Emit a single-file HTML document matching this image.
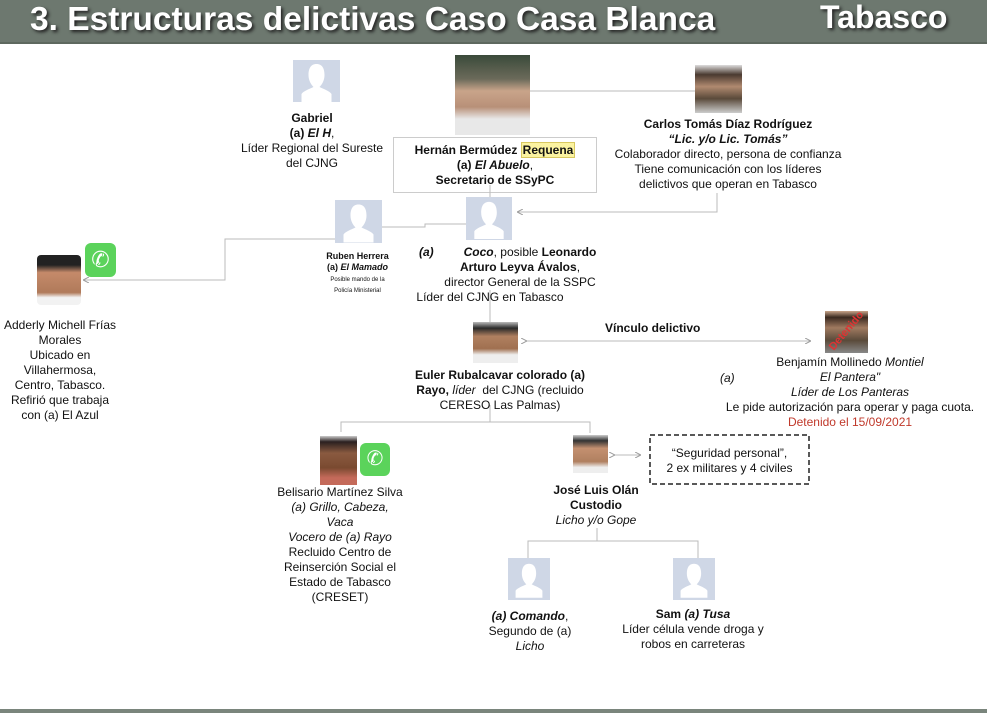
<!DOCTYPE html>
<html><head><meta charset="utf-8"><style>
*{margin:0;padding:0;box-sizing:border-box}
body{width:987px;height:714px;position:relative;background:#fff;font-family:"Liberation Sans",sans-serif;overflow:hidden;color:#111}
.hdr{position:absolute;left:0;top:0;width:987px;height:44px;background:#6d786f;border-bottom:2px solid #5e685f}
.ttl{position:absolute;top:1px;color:#fff;font-weight:bold;font-size:33.5px;text-shadow:2px 2px 3px #222;white-space:nowrap}
.t{position:absolute;font-size:12px;line-height:15px;text-align:center;white-space:nowrap}
.ph{position:absolute;background:#cfd7e6;overflow:hidden}
.ph svg{width:100%;height:100%;display:block}
.pic{position:absolute;overflow:hidden}
svg.lines{position:absolute;left:0;top:0}
b{font-weight:bold}
</style></head><body>
<div class="hdr"></div>
<div class="ttl" style="left:30px">3. Estructuras delictivas Caso Casa Blanca</div>
<div class="ttl" style="left:820px;top:-1px;font-size:32px">Tabasco</div>

<svg class="lines" width="987" height="714">
<defs><marker id="a" markerWidth="6" markerHeight="6" refX="5" refY="3" orient="auto"><path d="M0,0 L6,3 L0,6" fill="none" stroke="#999" stroke-width="1"/></marker></defs>
<g stroke="#bbb" stroke-width="1" fill="none">
<line x1="530" y1="91" x2="695" y2="91"/>
<rect x="393.5" y="137.5" width="203" height="55" stroke="#ccc"/>
<polyline points="717,193 717,212 518,212" marker-end="url(#a)"/>
<line x1="490" y1="185" x2="490" y2="197"/>
<polyline points="382,227 425,227 425,224 466,224"/>
<polyline points="335,239 225,239 225,280 84,280" marker-end="url(#a)"/>
<line x1="490" y1="290" x2="490" y2="322"/>
<line x1="526" y1="341" x2="810" y2="341" marker-end="url(#a)" marker-start="url(#a)"/>
<polyline points="490,405 490,422"/>
<polyline points="341,432 341,422 590,422 590,433"/>
<line x1="614" y1="455" x2="640" y2="455" marker-end="url(#a)" marker-start="url(#a)"/>
<polyline points="597,528 597,541"/>
<polyline points="528,558 528,541 698,541 698,558"/>
</g>
<rect x="650" y="435" width="159" height="49" fill="none" stroke="#222" stroke-width="1.5" stroke-dasharray="5,3"/>
<line x1="0" y1="711" x2="987" y2="711" stroke="#7a857c" stroke-width="4"/>
</svg>

<div class="ph" style="left:293px;top:60px;width:47px;height:42px"><svg viewBox="0 0 47 42"><path d="M23.5 4c6 0 8 5 8 11s-3 10-5 12c4 2 10 4 12 7l0 8h-30l0-8c2-3 8-5 12-7-2-2-5-6-5-12s2-11 8-11z" fill="#fff"/></svg></div>
<div class="ph" style="left:466px;top:197px;width:46px;height:43px"><svg viewBox="0 0 47 42"><path d="M23.5 4c6 0 8 5 8 11s-3 10-5 12c4 2 10 4 12 7l0 8h-30l0-8c2-3 8-5 12-7-2-2-5-6-5-12s2-11 8-11z" fill="#fff"/></svg></div>
<div class="ph" style="left:335px;top:200px;width:47px;height:43px"><svg viewBox="0 0 47 42"><path d="M23.5 4c6 0 8 5 8 11s-3 10-5 12c4 2 10 4 12 7l0 8h-30l0-8c2-3 8-5 12-7-2-2-5-6-5-12s2-11 8-11z" fill="#fff"/></svg></div>
<div class="ph" style="left:508px;top:558px;width:42px;height:42px"><svg viewBox="0 0 47 42"><path d="M23.5 4c6 0 8 5 8 11s-3 10-5 12c4 2 10 4 12 7l0 8h-30l0-8c2-3 8-5 12-7-2-2-5-6-5-12s2-11 8-11z" fill="#fff"/></svg></div>
<div class="ph" style="left:673px;top:558px;width:42px;height:42px"><svg viewBox="0 0 47 42"><path d="M23.5 4c6 0 8 5 8 11s-3 10-5 12c4 2 10 4 12 7l0 8h-30l0-8c2-3 8-5 12-7-2-2-5-6-5-12s2-11 8-11z" fill="#fff"/></svg></div>

<div class="pic" style="left:455px;top:55px;width:75px;height:80px;background:linear-gradient(#3a4a3a 0%,#6b6a5a 30%,#c9a48a 45%,#b89078 65%,#e8e8e8 80%)"></div>
<div class="pic" style="left:695px;top:65px;width:47px;height:48px;background:linear-gradient(#ddd 0%,#4a3a30 20%,#b08a70 45%,#5a4a3a 70%,#ccc 100%)"></div>
<div class="pic" style="left:37px;top:255px;width:44px;height:50px;border-radius:4px;background:linear-gradient(#222 0%,#222 20%,#c58a6a 35%,#b07a5a 75%,#f2f2f2 85%)"></div>
<div class="pic" style="left:85px;top:243px;width:31px;height:34px;border-radius:6px;background:#5bd35b;color:#fff;font-size:22px;text-align:center;line-height:34px">✆</div>
<div class="pic" style="left:473px;top:322px;width:45px;height:41px;background:linear-gradient(#bbb 0%,#2a2a2a 15%,#b08060 35%,#a07050 65%,#eee 80%)"></div>
<div class="pic" style="left:825px;top:311px;width:43px;height:42px;background:linear-gradient(#c9a58a 0%,#3a2a20 15%,#a07a60 40%,#5a4a3a 70%,#888 100%)"><div style="position:absolute;left:-2px;top:14px;color:#d33;font-size:11px;transform:rotate(-50deg);font-weight:bold">Detenido</div></div>
<div class="pic" style="left:320px;top:436px;width:37px;height:49px;background:linear-gradient(#ccc 0%,#2a2020 12%,#8a5a40 35%,#7a4a30 65%,#c46a5a 85%)"></div>
<div class="pic" style="left:360px;top:443px;width:30px;height:33px;border-radius:6px;background:#5bd35b;color:#fff;font-size:20px;text-align:center;line-height:33px">✆</div>
<div class="pic" style="left:573px;top:435px;width:35px;height:38px;background:linear-gradient(#ccc 0%,#333 15%,#c49070 35%,#b08060 70%,#eee 85%)"></div>

<div class="t" style="left:212px;width:200px;top:111px"><b>Gabriel</b><br><b>(a) <i>El H</i></b>,<br>Líder Regional del Sureste<br>del CJNG</div>
<div class="t" style="left:393px;width:204px;top:143px"><b>Hernán Bermúdez <span style="background:#fbf3a0;border:1px solid #d8c860;padding:0 1px">Requena</span></b><br><b>(a) <i>El Abuelo</i></b>,<br><b>Secretario de SSyPC</b></div>
<div class="t" style="left:598px;width:260px;top:117px"><b>Carlos Tomás Díaz Rodríguez</b><br><b><i>“Lic. y/o Lic. Tomás”</i></b><br>Colaborador directo, persona de confianza<br>Tiene comunicación con los líderes<br>delictivos que operan en Tabasco</div>
<div class="t" style="left:300px;width:115px;top:251px;font-size:9px;line-height:11px"><b>Ruben Herrera</b><br><b>(a) <i>El Mamado</i></b><br><span style="font-size:6px;line-height:8px">Posible mando de la<br>Policía Ministerial</span></div>
<div class="t" style="left:419px;top:245px;text-align:left"><b><i>(a)</i></b></div>
<div class="t" style="left:420px;width:200px;top:245px"><span style="margin-left:20px"></span><b><i>Coco</i></b>, posible <b>Leonardo</b><br><b>Arturo Leyva Ávalos</b>,<br>director General de la SSPC</div>
<div class="t" style="left:400px;width:180px;top:290px">Líder del CJNG en Tabasco</div>
<div class="t" style="left:0px;width:120px;top:318px">Adderly Michell Frías<br>Morales<br>Ubicado en<br>Villahermosa,<br>Centro, Tabasco.<br>Refirió que trabaja<br>con (a) El Azul</div>
<div class="t" style="left:400px;width:200px;top:368px"><b>Euler Rubalcavar colorado (a)</b><br><b>Rayo,</b> <i>líder</i>&nbsp; del CJNG (recluido<br>CERESO Las Palmas)</div>
<div class="t" style="left:605px;top:321px"><b>Vínculo delictivo</b></div>
<div class="t" style="left:720px;width:260px;top:355px">Benjamín Mollinedo <i>Montiel</i><br><i>El Pantera"</i><br><i>Líder de Los Panteras</i><br>Le pide autorización para operar y paga cuota.<br><span style="color:#c0392b">Detenido el 15/09/2021</span></div>
<div class="t" style="left:720px;top:371px"><i>(a)</i></div>
<div class="t" style="left:650px;width:159px;top:446px">“Seguridad personal”,<br>2 ex militares y 4 civiles</div>
<div class="t" style="left:260px;width:160px;top:485px">Belisario Martínez Silva<br><i>(a) Grillo, Cabeza,</i><br><i>Vaca</i><br><i>Vocero de (a) Rayo</i><br>Recluido Centro de<br>Reinserción Social el<br>Estado de Tabasco<br>(CRESET)</div>
<div class="t" style="left:526px;width:140px;top:483px"><b>José Luis Olán</b><br><b>Custodio</b><br><i>Licho y/o Gope</i></div>
<div class="t" style="left:460px;width:140px;top:609px"><b><i>(a) Comando</i></b>,<br>Segundo de (a)<br><i>Licho</i></div>
<div class="t" style="left:608px;width:170px;top:607px"><b>Sam <i>(a) Tusa</i></b><br>Líder célula vende droga y<br>robos en carreteras</div>
</body></html>
